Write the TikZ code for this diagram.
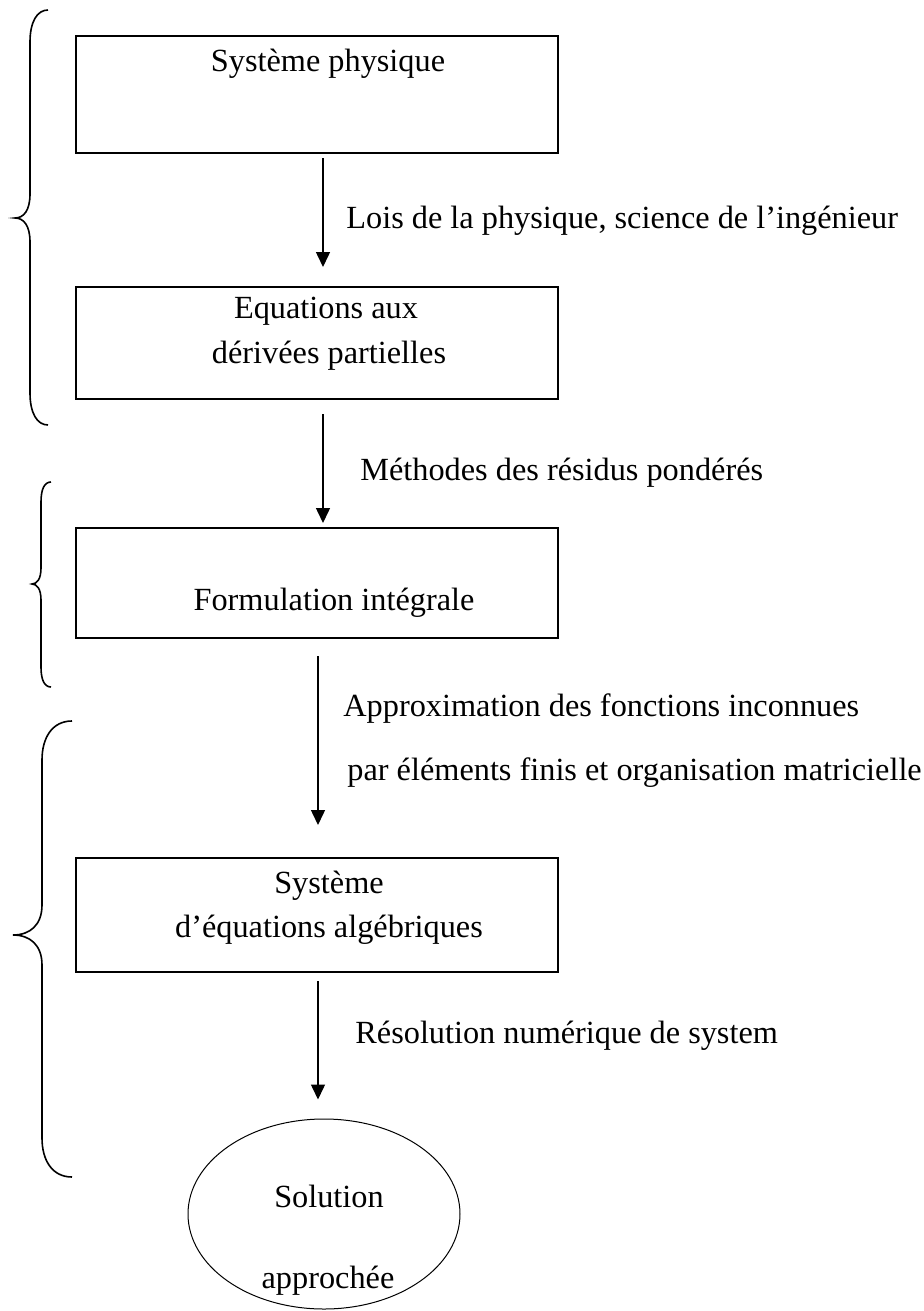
\documentclass[tikz,border=0pt]{standalone}
\usepackage{fontspec}
\setmainfont{Liberation Serif}
\usetikzlibrary{arrows.meta,shapes.geometric}

\begin{document}
\begin{tikzpicture}[x=0.5pt,y=-0.5pt]

      \tikzset{boite/.style={draw, rectangle, line width=1pt, minimum width=241pt, inner sep=0pt},
               texte/.style={anchor=base, inner sep=0pt, font=\fontsize{16.15}{19}\selectfont},
               etiq/.style={anchor=base west, inner sep=0pt, font=\fontsize{16.15}{19}\selectfont},
               fleche/.style={-{Triangle[width=7pt,length=7.5pt]}, line width=0.75pt},
               accolade/.style={line width=0.8pt}}
      \useasboundingbox (0,0) rectangle (923,1311);
%% Boxes
      	\node[boite, minimum height=58.5pt] (b1) at (317,94.5) {};
      	\node[boite, minimum height=56pt] (b2) at (317,343) {};
      	\node[boite, minimum height=55pt] (b3) at (317,583) {};
      	\node[boite, minimum height=57pt] (b4) at (317,915) {};
      	\node[draw, ellipse, line width=0.5pt, minimum width=136pt, minimum height=95pt, inner sep=0pt] (sol) at (324,1214) {};

%% Texts in the boxes
      	\node[texte] (t1) at (328,72) {Système physique};
      	\node[texte] (t2a) at (326,318) {Equations aux};
      	\node[texte] (t2b) at (329,363) {dérivées partielles};
      	\node[texte] (t3) at (334,610) {Formulation intégrale};
      	\node[texte] (t4a) at (329,893) {Système};
      	\node[texte] (t4b) at (329,937) {d’équations algébriques};
      	\node[texte] (t5a) at (329,1207) {Solution};
      	\node[texte] (t5b) at (328,1288) {approchée};

%Arrows
		\draw[fleche, shorten <=2pt, shorten >=9.5pt] ([xshift=3pt]b1.south) -- ([xshift=3pt]b2.north);
		\draw[fleche, shorten <=7pt, shorten >=2pt] ([xshift=3pt]b2.south) -- ([xshift=3pt]b3.north);
		\draw[fleche, shorten <=8.5pt, shorten >=16pt] ([xshift=0.5pt]b3.south) -- ([xshift=0.5pt]b4.north);
		\draw[fleche, shorten <=4pt, shorten >=9.5pt] ([xshift=0.5pt]b4.south) -- ([xshift=-3pt]sol.north);

%Labels
		\node[etiq] (l1) at (346,228) {Lois de la physique, science de l’ingénieur};
		\node[etiq] (l2) at (360,480) {Méthodes des résidus pondérés};
		\node[etiq] (l3a) at (343,716) {Approximation des fonctions inconnues};
		\node[etiq] (l3b) at (347,780) {par éléments finis et organisation matricielle};
		\node[etiq] (l4) at (355,1043) {Résolution numérique de system};

%Braces
		\draw[accolade] (48,10) .. controls (37,10) and (30,22) .. (30,42) -- (30,194) .. controls (30,210) and (24,218) .. (15,218) .. controls (24,218) and (30,226) .. (30,242) -- (30,393) .. controls (30,413) and (37,425) .. (48,425);
		\draw[accolade] (51,482) .. controls (44,482) and (41,490) .. (41,502) -- (41,568) .. controls (41,579) and (37,584) .. (32,584) .. controls (37,584) and (41,589) .. (41,600) -- (41,667) .. controls (41,679) and (44,687) .. (51,687);
		\draw[accolade] (72,721) .. controls (52,721) and (42,738) .. (42,760) -- (42,905) .. controls (42,925) and (30,935) .. (13,935) .. controls (30,935) and (42,945) .. (42,965) -- (42,1138) .. controls (42,1160) and (52,1177) .. (72,1177);
	\end{tikzpicture}
\end{document}
